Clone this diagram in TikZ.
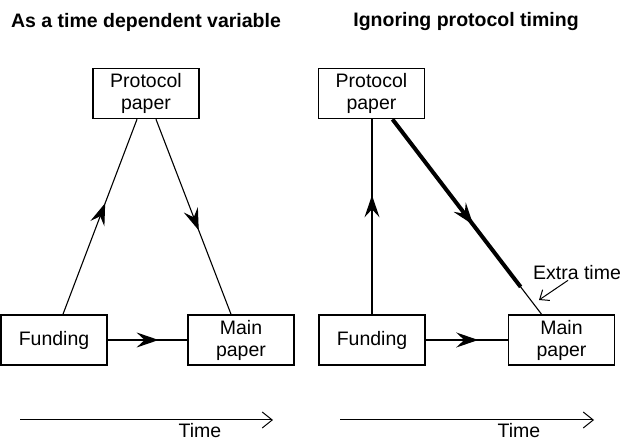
\documentclass[tikz,border=0pt]{standalone}
\usepackage{fontspec}
\setmainfont{Liberation Sans}
\usetikzlibrary{arrows.meta,calc,decorations.markings}

\tikzset{
  box/.style={draw, line width=1.6pt, minimum width=106pt, minimum height=50pt,
    inner sep=0pt, align=center, font=\fontsize{19.5}{22}\selectfont},
  conn/.style={line width=1.1pt},
  heavyconn/.style={line width=4pt},
  midarrow/.style={postaction={decorate, decoration={markings,
    mark=at position #1 with {\arrow{Stealth[length=22pt,width=15pt,inset=8pt]}}}}},
  timeaxis/.style={line width=1pt, -{Straight Barb[length=10pt,width=16pt]}},
  heading/.style={font=\bfseries\fontsize{19.5}{22}\selectfont},
  plain/.style={font=\fontsize{19.5}{22}\selectfont, inner sep=0pt}
}

\begin{document}
\begin{tikzpicture}[x=1pt,y=-1pt]
\useasboundingbox (0,0) rectangle (622,443);

% left: as a time dependent variable
\node[heading] (titleA) at (146,22) {As a time dependent variable};
\node[box] (protoA) at (146,93.5) {Protocol\\paper};
\node[box] (fundA) at (54,340) {Funding};
\node[box] (mainA) at (241,340) {Main\\paper};

\draw[conn, midarrow=0.57] ([xshift=9pt]fundA.north) -- ([xshift=-9pt]protoA.south);
\draw[conn, midarrow=0.57] ([xshift=10pt]protoA.south) -- ([xshift=-10pt]mainA.north);
\draw[conn, midarrow=0.64] (fundA.east) -- (mainA.west);

\coordinate (startA) at (20,420);
\coordinate (endA) at (273,420);
\draw[timeaxis] (startA) -- (endA);
\node[plain] (timeA) at (200,431) {Time};

% right: ignoring protocol timing
\node[heading] (titleB) at (466,22) {Ignoring protocol timing};
\node[box] (protoB) at (371.5,93.5) {Protocol\\paper};
\node[box] (fundB) at (372,340) {Funding};
\node[box] (mainB) at (561.5,340) {Main\\paper};

\draw[conn, midarrow=0.61] (fundB.north) -- (fundB.north |- protoB.south);
\coordinate (extra) at ($([xshift=21pt]protoB.south)!0.86!([xshift=-20pt]mainB.north)$);
\draw[heavyconn, midarrow=0.63] ([xshift=21pt]protoB.south) -- (extra);
\draw[conn] (extra) -- ([xshift=-20pt]mainB.north);
\draw[conn, midarrow=0.64] (fundB.east) -- (mainB.west);

\node[plain] (extraB) at (577,273) {Extra time};
\coordinate (extraTip) at (539,300);
\draw[line width=1pt, -{Straight Barb[length=8pt,width=13pt]}] ([xshift=-9pt]extraB.south) -- (extraTip);

\coordinate (startB) at (340,420);
\coordinate (endB) at (594,420);
\draw[timeaxis] (startB) -- (endB);
\node[plain] (timeB) at (519,431) {Time};
\end{tikzpicture}
\end{document}
